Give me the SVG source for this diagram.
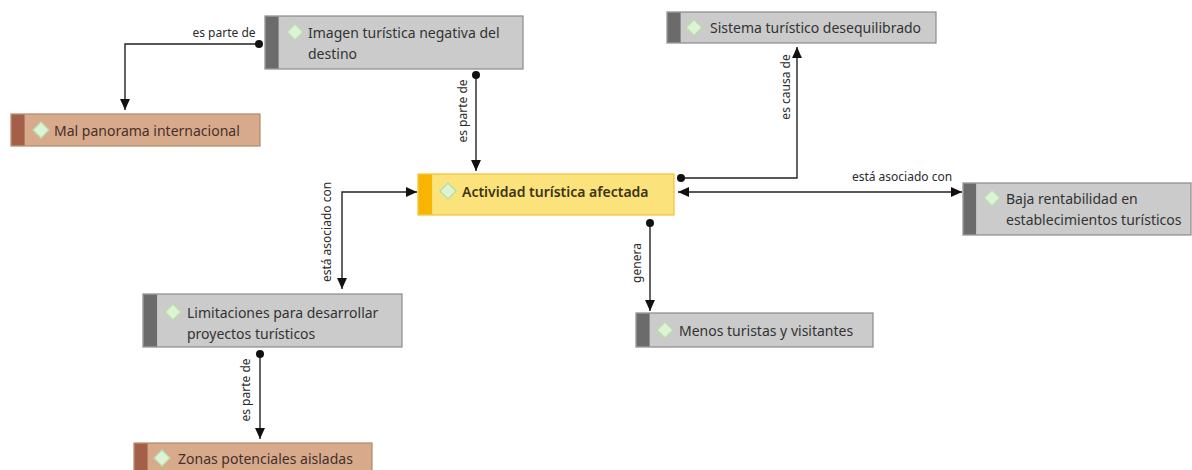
<svg xmlns="http://www.w3.org/2000/svg" width="1192" height="470" viewBox="0 0 1192 470">
<defs>
<style>
.box{stroke-width:1.2}
.gray{fill:#cbcbcb;stroke:#8a8a8a}
.gbar{fill:#6b6b6b}
.brown{fill:#d8aa8c;stroke:#b3876c}
.bbar{fill:#a45f4b}
.yellow{fill:#fbe27a;stroke:#f2c232}
.ybar{fill:#f7b500}
.dia{fill:#dcf3d6;stroke:#b9dca9;stroke-width:1.3}
.t{font-family:"Noto Sans","Open Sans","Liberation Sans",sans-serif;font-size:14px;fill:#333333;dominant-baseline:central}
.tb{fill:#45302a}
.ty{fill:#3d3418;font-weight:600}
.lbl{font-family:"Noto Sans","Open Sans","Liberation Sans",sans-serif;font-size:12px;fill:#2b2b2b;dominant-baseline:central;text-anchor:middle}
.ln{fill:none;stroke:#222;stroke-width:1.4}
</style>
<marker id="arr" viewBox="0 0 10 10" refX="10" refY="5" markerWidth="11" markerHeight="11" markerUnits="userSpaceOnUse" orient="auto-start-reverse">
<path d="M0,0.5 L10,5 L0,9.5 z" fill="#111"/>
</marker>
<marker id="dot" viewBox="0 0 10 10" refX="5" refY="5" markerWidth="8" markerHeight="8" markerUnits="userSpaceOnUse">
<circle cx="5" cy="5" r="5" fill="#111"/>
</marker>
</defs>
<rect width="1192" height="470" fill="#ffffff"/>

<g id="connectors">
<path class="ln" d="M259,44 H125 V110" marker-start="url(#dot)" marker-end="url(#arr)"/>
<text class="lbl" x="224" y="32">es parte de</text>

<path class="ln" d="M476,75 V171" marker-start="url(#dot)" marker-end="url(#arr)"/>
<text class="lbl" transform="translate(462,111) rotate(-90)">es parte de</text>

<path class="ln" d="M681,178 H797 V47" marker-start="url(#dot)" marker-end="url(#arr)"/>
<text class="lbl" transform="translate(785,87) rotate(-90)">es causa de</text>

<path class="ln" d="M678,192 H962" marker-start="url(#arr)" marker-end="url(#arr)"/>
<text class="lbl" x="902" y="176">está asociado con</text>

<path class="ln" d="M342,289 V192 H417" marker-start="url(#arr)" marker-end="url(#arr)"/>
<text class="lbl" transform="translate(326,232) rotate(-90)">está asociado con</text>

<path class="ln" d="M650,223 V311" marker-start="url(#dot)" marker-end="url(#arr)"/>
<text class="lbl" transform="translate(636,263) rotate(-90)">genera</text>

<path class="ln" d="M260,354 V439" marker-start="url(#dot)" marker-end="url(#arr)"/>
<text class="lbl" transform="translate(245,390) rotate(-90)">es parte de</text>
</g>

<g id="node-imagen">
<rect class="box gray" x="265" y="16" width="258" height="53"/>
<rect class="gbar" x="265.6" y="16.6" width="13" height="51.8"/>
<path class="dia" d="M295,24 L303,32 L295,40 L287,32 z"/>
<text class="t" x="308" y="32">Imagen turística negativa del</text>
<text class="t" x="308" y="53">destino</text>
</g>

<g id="node-mal">
<rect class="box brown" x="11" y="114" width="249" height="32"/>
<rect class="bbar" x="11.6" y="114.6" width="13" height="30.8"/>
<path class="dia" d="M41,122 L49,130 L41,138 L33,130 z"/>
<text class="t tb" x="54" y="130">Mal panorama internacional</text>
</g>

<g id="node-actividad">
<rect class="box yellow" x="418" y="174" width="256" height="41"/>
<rect class="ybar" x="418.6" y="174.6" width="13.5" height="39.8"/>
<path class="dia" d="M448,183 L456,191 L448,199 L440,191 z"/>
<text class="t ty" x="462" y="191">Actividad turística afectada</text>
</g>

<g id="node-sistema">
<rect class="box gray" x="667" y="12" width="269" height="31"/>
<rect class="gbar" x="667.6" y="12.6" width="13" height="29.8"/>
<path class="dia" d="M694,19.5 L702,27.5 L694,35.5 L686,27.5 z"/>
<text class="t" x="710" y="27.5">Sistema turístico desequilibrado</text>
</g>

<g id="node-baja">
<rect class="box gray" x="963" y="183" width="228" height="52"/>
<rect class="gbar" x="963.6" y="183.6" width="12.5" height="50.8"/>
<path class="dia" d="M992,190 L1000,198 L992,206 L984,198 z"/>
<text class="t" x="1006" y="198">Baja rentabilidad en</text>
<text class="t" x="1006" y="219">establecimientos turísticos</text>
</g>

<g id="node-limitaciones">
<rect class="box gray" x="143" y="294" width="259" height="53"/>
<rect class="gbar" x="143.6" y="294.6" width="13.5" height="51.8"/>
<path class="dia" d="M173,304 L181,312 L173,320 L165,312 z"/>
<text class="t" x="187" y="312">Limitaciones para desarrollar</text>
<text class="t" x="187" y="333">proyectos turísticos</text>
</g>

<g id="node-menos">
<rect class="box gray" x="636" y="313" width="237" height="34"/>
<rect class="gbar" x="636.6" y="313.6" width="13" height="32.8"/>
<path class="dia" d="M665,322 L673,330 L665,338 L657,330 z"/>
<text class="t" x="679" y="330">Menos turistas y visitantes</text>
</g>

<g id="node-zonas">
<rect class="box brown" x="134" y="443" width="238" height="40"/>
<rect class="bbar" x="134.6" y="443.6" width="13" height="39"/>
<path class="dia" d="M162,450 L170,458 L162,466 L154,458 z"/>
<text class="t tb" x="178" y="458">Zonas potenciales aisladas</text>
</g>
</svg>
